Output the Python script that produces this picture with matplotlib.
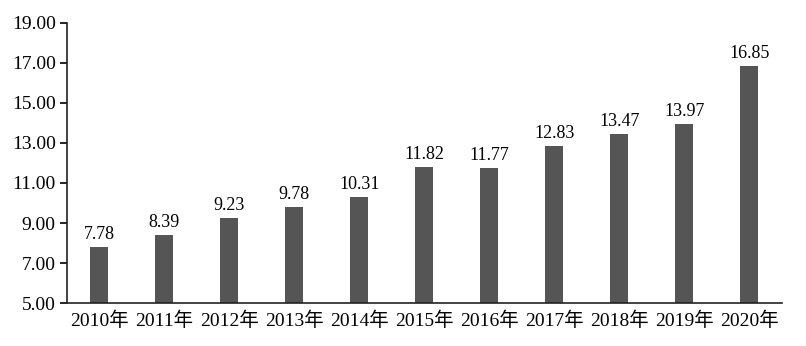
import matplotlib.pyplot as plt
import numpy as np

plt.rcParams['font.family'] = ['Liberation Serif', 'Noto Sans CJK SC']

years = ['2010年', '2011年', '2012年', '2013年', '2014年', '2015年',
         '2016年', '2017年', '2018年', '2019年', '2020年']
values = [7.78, 8.39, 9.23, 9.78, 10.31, 11.82, 11.77, 12.83, 13.47, 13.97, 16.85]
yticks = [5, 7, 9, 11, 13, 15, 17, 19]

fig = plt.figure(figsize=(8.06, 3.46), dpi=100)
ax = fig.add_axes([0.083, 0.124, 0.887, 0.81])

x = np.arange(len(years))
bars = ax.bar(x, values, width=0.28, color='#555555', zorder=2)
for xi, v in zip(x, values):
    ax.text(xi, v + 0.2, f'{v:.2f}', ha='center', va='bottom', fontsize=13)

ax.set_ylim(5, 19)
ax.set_yticks(yticks)
ax.set_yticklabels([f'{t:.2f}' for t in yticks], fontsize=14)
ax.set_xlim(-0.5, len(years) - 0.5)
ax.set_xticks(x)
ax.set_xticklabels(years, fontsize=14)
ax.tick_params(axis='x', length=0, pad=6)
ax.tick_params(axis='y', length=5, width=1.2, direction='out', pad=3)

for s in ['top', 'right']:
    ax.spines[s].set_visible(False)
for s in ['left', 'bottom']:
    ax.spines[s].set_linewidth(1.2)
    ax.spines[s].set_color('#222222')

fig.savefig('out.png', dpi=100)
